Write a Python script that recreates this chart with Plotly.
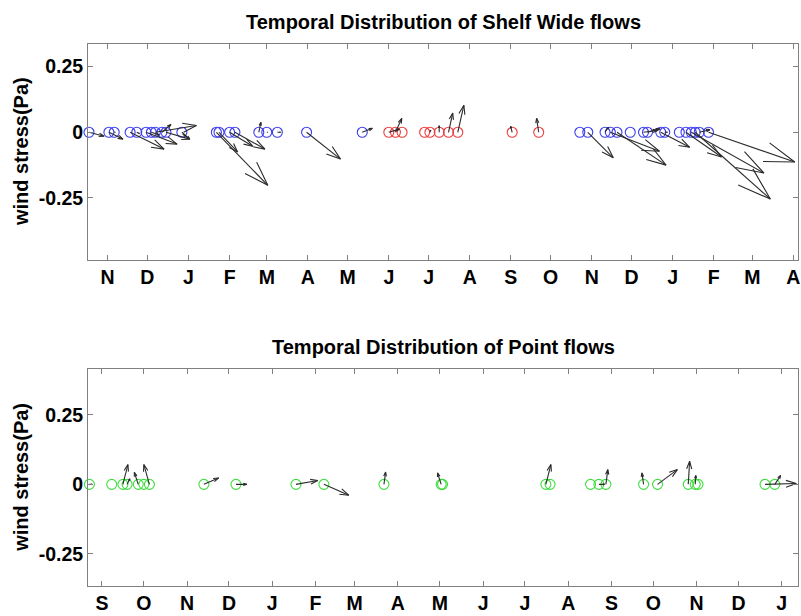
import pandas as pd
import plotly.graph_objects as go

# ---------------- data: Shelf Wide flows (top panel) ----------------
shelf_dates = ["2006-10-18", "2006-11-02", "2006-11-06", "2006-11-18", "2006-11-23", "2006-11-30",
               "2006-12-04", "2006-12-07", "2006-12-12", "2006-12-15", "2006-12-27", "2007-01-22",
               "2007-01-24", "2007-02-01", "2007-02-05", "2007-02-23", "2007-03-01", "2007-03-09",
               "2007-03-31", "2007-05-12", "2007-06-01", "2007-06-06", "2007-06-11", "2007-06-28",
               "2007-07-02", "2007-07-09", "2007-07-16", "2007-07-23", "2007-09-02", "2007-09-22",
               "2007-10-23", "2007-10-29", "2007-11-11", "2007-11-15", "2007-11-20", "2007-11-30",
               "2007-12-10", "2007-12-13", "2007-12-23", "2007-12-26", "2008-01-06", "2008-01-11",
               "2008-01-15", "2008-01-18", "2008-01-21", "2008-01-28"]
shelf_taux = [0.057, 0.053, 0.004, 0.128, 0.010, 0.117,
              0.030, 0.155, 0.034, 0.090, 0.030, 0.194,
              0.070, 0.087, 0.113, 0.008, 0.003, 0.012,
              0.128, 0.038, 0.040, 0.024, 0.0, 0.0,
              0.003, 0.0, 0.016, 0.023, -0.006, -0.008,
              0.0, 0.096, 0.013, 0.185, 0.185, 0.0,
              0.053, 0.047, 0.109, 0.010, 0.0, 0.134,
              0.274, 0.283, 0.040, 0.325]
shelf_tauy = [-0.015, -0.026, 0.0, -0.064, -0.005, -0.045,
              -0.010, 0.026, 0.030, -0.026, -0.026, -0.202,
              -0.075, -0.053, -0.064, 0.038, 0.0, 0.0,
              -0.102, 0.015, 0.012, 0.053, 0.0, 0.0,
              0.008, 0.025, 0.073, 0.103, 0.023, 0.053,
              0.0, -0.097, 0.019, -0.072, -0.125, 0.0,
              0.008, 0.013, -0.057, 0.0, 0.0, -0.094,
              -0.155, -0.254, 0.010, -0.113]
# 'W' = winter-type event (blue), 'S' = summer-type event (red)
shelf_season = ["W"] * 20 + ["S"] * 10 + ["W"] * 16

# ---------------- data: Point flows (bottom panel) ----------------
point_dates = ["2006-08-23", "2006-09-08", "2006-09-16", "2006-09-19", "2006-09-27", "2006-10-01",
               "2006-10-05", "2006-11-13", "2006-12-06", "2007-01-18", "2007-02-07", "2007-03-22",
               "2007-05-02", "2007-05-03", "2007-07-16", "2007-07-19", "2007-08-17", "2007-08-23",
               "2007-08-28", "2007-09-24", "2007-10-04", "2007-10-26", "2007-10-31", "2007-11-02",
               "2007-12-20", "2007-12-27"]
point_taux = [0.010, 0.0, 0.018, 0.010, -0.014, 0.0,
              -0.020, 0.053, 0.039, 0.078, 0.089, 0.006,
              -0.013, 0.0, 0.018, 0.0, 0.0, 0.020,
              0.007, -0.006, 0.071, 0.005, 0.002, 0.0,
              0.112, 0.021]
point_tauy = [0.0, 0.0, 0.071, 0.020, 0.043, 0.0,
              0.071, 0.023, 0.0, 0.014, -0.039, 0.044,
              0.041, 0.0, 0.071, 0.0, 0.0, 0.0,
              0.053, 0.041, 0.053, 0.083, 0.032, 0.0,
              0.003, 0.032]

# axis tick labels
shelf_tick_start = "2006-11-01"
shelf_tick_labels = ["N", "D", "J", "F", "M", "A", "M", "J", "J", "A", "S", "O", "N", "D", "J", "F", "M", "A"]
point_tick_start = "2006-09-01"
point_tick_labels = ["S", "O", "N", "D", "J", "F", "M", "A", "M", "J", "J", "A", "S", "O", "N", "D", "J"]
y_tick_vals = [-0.25, 0, 0.25]
y_tick_text = ["-0.25", "0", "0.25"]

# ---------------- layout geometry ----------------
W, H = 801, 616
ML, MR, MT, MB = 88, 2, 44, 25
PW, PH = W - ML - MR, H - MT - MB
top_dom = [0.602, 1.0]
bot_dom = [0.0, 0.3998]
top_xr = ["2006-10-17 06:00", "2008-04-04 11:00"]
bot_xr = ["2006-08-22 00:00", "2008-01-12 15:00"]
top_yr = [-0.485, 0.336]
bot_yr = [-0.365, 0.413]
DAYS_PER_PA = 200.0  # scaling of the east component onto the time axis

AX_GREY = "#808080"
ARROW_C = "#2b2b2b"
COL = {"W": "#3c3cf0", "S": "#ee3b3b", "P": "#3fdc3f"}


def quiver(dates, tx, ty, xr, yr, dom):
    x0, x1 = pd.Timestamp(xr[0]), pd.Timestamp(xr[1])
    ndays = (x1 - x0) / pd.Timedelta(days=1)
    pxd = PW / ndays
    pxp = PH * (dom[1] - dom[0]) / (yr[1] - yr[0])
    a, b = 0.33, 0.33
    xs, ys = [], []
    for d, u, v in zip(dates, tx, ty):
        if u == 0 and v == 0:
            continue
        t0 = pd.Timestamp(d)
        up = u * DAYS_PER_PA * pxd
        vp = v * pxp
        h1 = (up - a * (up + b * vp), vp - a * (vp - b * up))
        h2 = (up - a * (up - b * vp), vp - a * (vp + b * up))
        pts = [(0, 0), (up, vp), None, h1, (up, vp), h2, None]
        for p in pts:
            if p is None:
                xs.append(None)
                ys.append(None)
            else:
                xs.append(t0 + pd.Timedelta(days=p[0] / pxd))
                ys.append(p[1] / pxp)
    return xs, ys


fig = go.Figure()

# top panel circles
for s in ["W", "S"]:
    xs = [d for d, k in zip(shelf_dates, shelf_season) if k == s]
    fig.add_trace(go.Scatter(x=xs, y=[0] * len(xs), mode="markers", xaxis="x", yaxis="y",
                             marker=dict(symbol="circle-open", size=10, color=COL[s], line=dict(width=1.1)),
                             cliponaxis=False, showlegend=False, hoverinfo="skip"))
qx, qy = quiver(shelf_dates, shelf_taux, shelf_tauy, top_xr, top_yr, top_dom)
fig.add_trace(go.Scatter(x=qx, y=qy, mode="lines", xaxis="x", yaxis="y",
                         line=dict(color=ARROW_C, width=1.1), cliponaxis=False,
                         showlegend=False, hoverinfo="skip"))

# bottom panel circles
fig.add_trace(go.Scatter(x=point_dates, y=[0] * len(point_dates), mode="markers", xaxis="x2", yaxis="y2",
                         marker=dict(symbol="circle-open", size=10, color=COL["P"], line=dict(width=1.1)),
                         cliponaxis=False, showlegend=False, hoverinfo="skip"))
qx2, qy2 = quiver(point_dates, point_taux, point_tauy, bot_xr, bot_yr, bot_dom)
fig.add_trace(go.Scatter(x=qx2, y=qy2, mode="lines", xaxis="x2", yaxis="y2",
                         line=dict(color=ARROW_C, width=1.1), cliponaxis=False,
                         showlegend=False, hoverinfo="skip"))

tickfont = dict(family="Liberation Sans, Arial, sans-serif", size=19.5, color="black", weight="bold")


def xax(start, labels, rng, anchor):
    vals = list(pd.date_range(start, periods=len(labels), freq="MS"))
    return dict(type="date", range=rng, tickvals=vals, ticktext=labels, ticks="inside", ticklen=5,
                tickcolor=AX_GREY, showline=True, linecolor=AX_GREY, linewidth=1, mirror="allticks",
                showgrid=False, zeroline=False, tickfont=tickfont, anchor=anchor, domain=[0, 1],
                tickangle=0)


def yax(rng, dom, anchor):
    return dict(range=rng, domain=dom, tickvals=y_tick_vals, ticktext=y_tick_text, ticks="inside",
                ticklen=5, tickcolor=AX_GREY, showline=True, linecolor=AX_GREY, linewidth=1,
                mirror="allticks", showgrid=False, zeroline=False, tickfont=tickfont, anchor=anchor)


fig.update_layout(
    width=W, height=H, margin=dict(l=ML, r=MR, t=MT, b=MB),
    paper_bgcolor="white", plot_bgcolor="white",
    xaxis=xax(shelf_tick_start, shelf_tick_labels, top_xr, "y"),
    yaxis=yax(top_yr, top_dom, "x"),
    xaxis2=xax(point_tick_start, point_tick_labels, bot_xr, "y2"),
    yaxis2=yax(bot_yr, bot_dom, "x2"),
)

titlefont = dict(family="Liberation Sans, Arial, sans-serif", size=20, color="black", weight="bold")
ytitlefont = dict(family="Liberation Sans, Arial, sans-serif", size=20, color="black", weight="bold")
ann = [
    dict(text="Temporal Distribution of Shelf Wide flows", x=0.5, y=(H - MB - 21.7) / PH,
         xref="paper", yref="paper", showarrow=False, font=titlefont, xanchor="center", yanchor="middle"),
    dict(text="Temporal Distribution of Point flows", x=0.5, y=(H - MB - 350) / PH,
         xref="paper", yref="paper", showarrow=False, font=titlefont, xanchor="center", yanchor="middle"),
    dict(text="wind stress(Pa)", x=(21 - ML) / PW, y=(H - MB - 153) / PH, textangle=-90,
         xref="paper", yref="paper", showarrow=False, font=ytitlefont, xanchor="center", yanchor="middle"),
    dict(text="wind stress(Pa)", x=(21 - ML) / PW, y=(H - MB - 481.7) / PH, textangle=-90,
         xref="paper", yref="paper", showarrow=False, font=ytitlefont, xanchor="center", yanchor="middle"),
]
fig.update_layout(annotations=ann)

fig.write_html("out.html")
